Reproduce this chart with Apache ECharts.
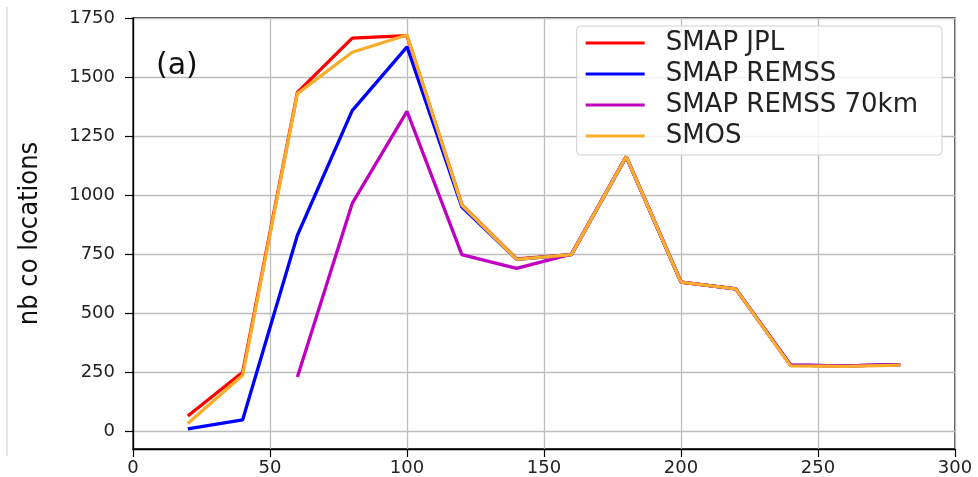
<!DOCTYPE html>
<html>
<head>
<meta charset="utf-8">
<script src="https://cdn.jsdelivr.net/npm/echarts@6/dist/echarts.min.js"></script>
<style>
  html, body { margin: 0; padding: 0; background: #fff; }
  #chart { width: 978px; height: 477px; }
</style>
</head>
<body>
<div id="chart"></div>
<script>
// x positions (km)
const xValues = [20, 40, 60, 80, 100, 120, 140, 160, 180, 200, 220, 240, 260, 280];

// counts
const smapJpl = [65, 250, 1435, 1665, 1675, 960, 730, 748, 1163, 632, 603, 280, 277, 282];
const smapRemss = [10, 48, 830, 1358, 1628, 950, 728, 748, 1163, 632, 603, 280, 277, 282];
const smapRemss70 = [null, null, 230, 965, 1355, 748, 690, 750, 1163, 632, 603, 280, 277, 282];
const smos = [33, 237, 1430, 1605, 1678, 958, 728, 748, 1163, 632, 603, 277, 275, 280];

const yTicks = [0, 250, 500, 750, 1000, 1250, 1500, 1750];

const pairs = (ys) => xValues.map((x, i) => [x, ys[i]]);

const chart = echarts.init(document.getElementById('chart'));

const tickFont = {
  fontFamily: 'DejaVu Sans',
  fontSize: 18,
  color: '#222',
  formatter: (v) => String(v),
};

const lineSeries = (name, ys, color) => ({
  name: name,
  type: 'line',
  data: pairs(ys),
  showSymbol: false,
  symbol: 'none',
  connectNulls: false,
  lineStyle: { color: color, width: 3.3 },
  itemStyle: { color: color },
  emphasis: { disabled: true },
  z: 3,
});

const option = {
  animation: false,
  backgroundColor: '#fff',
  title: {
    text: '(a)',
    left: 156,
    top: 51,
    padding: 0,
    textStyle: {
      fontFamily: 'DejaVu Sans',
      fontSize: 30,
      fontWeight: 'normal',
      color: '#111',
    },
  },
  legend: {
    right: 36,
    top: 26,
    orient: 'vertical',
    icon: 'rect',
    itemWidth: 59,
    itemHeight: 3,
    itemGap: 5,
    padding: [4, 24, 6, 9],
    backgroundColor: 'rgba(255,255,255,0.8)',
    borderColor: '#d0d0d0',
    borderWidth: 1,
    borderRadius: 4,
    textStyle: {
      fontFamily: 'DejaVu Sans',
      fontSize: 26,
      lineHeight: 26,
      color: '#222',
      padding: [0, 0, 0, 16],
    },
    data: ['SMAP JPL', 'SMAP REMSS', 'SMAP REMSS 70km', 'SMOS'],
  },
  grid: {
    left: 133,
    right: 23,
    top: 18,
    bottom: 28,
    show: true,
    borderColor: '#000',
    borderWidth: 1.3,
    backgroundColor: 'transparent',
  },
  xAxis: {
    type: 'value',
    min: 0,
    max: 300,
    interval: 50,
    axisLine: { show: true, onZero: false, lineStyle: { color: '#000', width: 1.3 } },
    axisTick: { show: true, inside: false, length: 8, lineStyle: { color: '#000', width: 1.2 } },
    axisLabel: { ...tickFont, margin: 10 },
    splitLine: { show: true, lineStyle: { color: '#bdbdbd', width: 1.3 } },
  },
  yAxis: {
    type: 'value',
    min: -75,
    max: 1750,
    name: 'nb co locations',
    nameLocation: 'middle',
    nameGap: 90,
    nameTextStyle: {
      fontFamily: 'DejaVu Sans Condensed',
      fontSize: 27,
      color: '#111',
    },
    axisLine: { show: true, lineStyle: { color: '#000', width: 1.3 } },
    axisTick: {
      show: true,
      inside: false,
      length: 8,
      customValues: yTicks,
      lineStyle: { color: '#000', width: 1.2 },
    },
    axisLabel: { ...tickFont, margin: 18, customValues: yTicks },
    splitLine: { show: true, lineStyle: { color: '#bdbdbd', width: 1.3 } },
  },
  graphic: [
    {
      type: 'line',
      shape: { x1: 7, y1: 7, x2: 7, y2: 456 },
      style: { stroke: '#cfcfcf', lineWidth: 1 },
      silent: true,
    },
  ],
  series: [
    lineSeries('SMAP JPL', smapJpl, '#ff0000'),
    lineSeries('SMAP REMSS', smapRemss, '#0000ff'),
    lineSeries('SMAP REMSS 70km', smapRemss70, '#c000c0'),
    lineSeries('SMOS', smos, '#f8ae2a'),
  ],
};

chart.setOption(option);
</script>
</body>
</html>
